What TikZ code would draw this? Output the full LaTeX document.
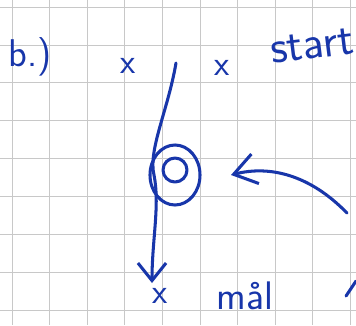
\documentclass[tikz,border=0pt]{standalone}
\usepackage{tikz}
\usetikzlibrary{arrows.meta,positioning,shapes.geometric}
\definecolor{pen}{RGB}{24,54,170}
\definecolor{gridgray}{RGB}{200,200,200}

\begin{document}
\begin{tikzpicture}[x=0.03cm,y=-0.03cm,
  ink/.style={draw=pen,line width=2.6pt,line cap=round,line join=round},
  handtext/.style={text=pen,font=\sffamily\fontsize{34}{38}\selectfont,inner sep=0pt},
  crossmark/.style={text=pen,font=\sffamily\fontsize{30}{32}\selectfont,inner sep=0pt}]
\useasboundingbox (0,0) rectangle (356,325);
\fill[white] (0,0) rectangle (356,325);
% squared paper
\foreach \i in {0,...,9} \draw[gridgray,line width=0.6pt] ({12+37.6*\i},0) -- ({12+37.6*\i},325);
\foreach \j in {0,...,8} \draw[gridgray,line width=0.6pt] (0,{7+37.9*\j}) -- (356,{7+37.9*\j});
% labels
\node[handtext,font=\sffamily\fontsize{33}{36}\selectfont] (part) at (30,57) {b.)};
\node[handtext,font=\sffamily\fontsize{40}{44}\selectfont,rotate=7] (start) at (312,46) {start};
\node[handtext] (goal) at (245,296) {mål};
\node[crossmark] (xa) at (128,66) {x};
\node[crossmark] (xb) at (222,68) {x};
\node[crossmark] (xc) at (160,296) {x};
% target
\node[ellipse,ink,minimum width=1.5cm,minimum height=1.8cm,inner sep=0pt] (target) at (175,175) {};
\node[circle,ink,minimum size=0.72cm,inner sep=0pt] (bull) at (175,170) {};
% path from start to goal
\coordinate (top) at (176,63);
\coordinate (bottom) at (152,283);
\draw[ink,-{Straight Barb[length=15pt,width=24pt]}] (top) .. controls (168,110) and (148,150) .. (154,175)
  .. controls (160,205) and (152,240) .. (bottom);
% incoming arrow
\coordinate (wind) at (347,213);
\coordinate (aim) at (231,175);
\draw[ink,-{Straight Barb[length=19pt,width=26pt]}] (wind) .. controls (310,175) and (270,165) .. (aim);
% cut-off stroke at the edge
\coordinate (edgea) at (346,296);
\coordinate (edgeb) at (356,281);
\draw[ink] (edgea) -- (edgeb);
\end{tikzpicture}
\end{document}
